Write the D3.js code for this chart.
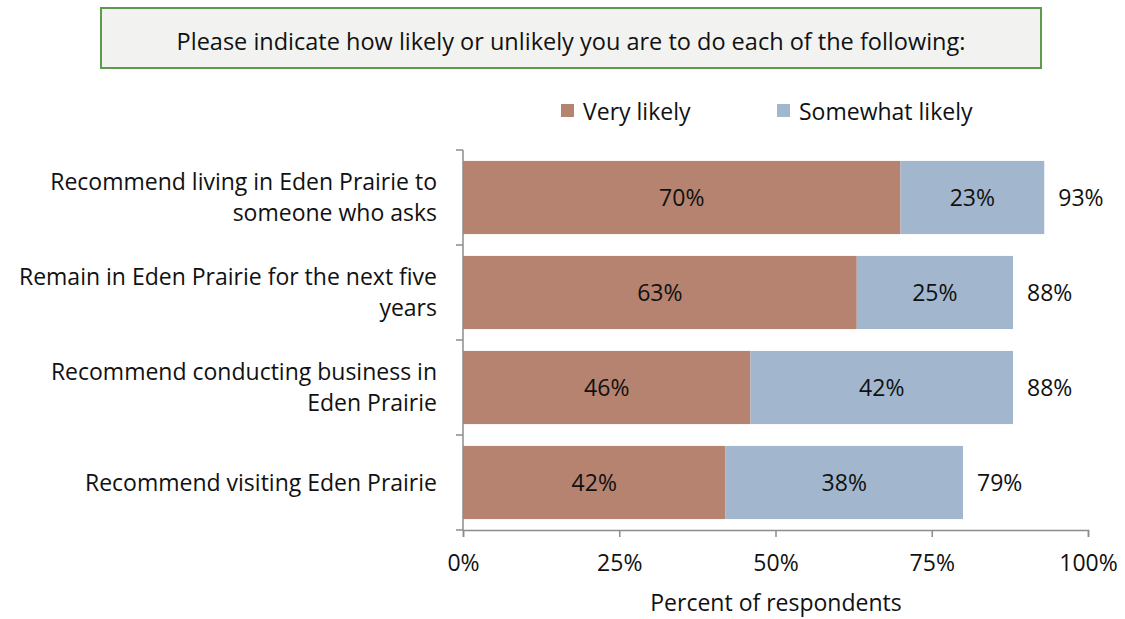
<!DOCTYPE html>
<html>
<head>
<meta charset="utf-8">
<script src="https://cdn.jsdelivr.net/npm/d3@7"></script>
<style>
  html, body { margin: 0; padding: 0; background: #ffffff; }
  svg { display: block; font-family: "Open Sans", "Noto Sans", sans-serif; }
</style>
</head>
<body>
<svg id="chart" width="1125" height="619"></svg>
<script>
// Survey items (two-line labels split on "|")
const categories = [
  "Recommend living in Eden Prairie to|someone who asks",
  "Remain in Eden Prairie for the next five|years",
  "Recommend conducting business in|Eden Prairie",
  "Recommend visiting Eden Prairie"
];
const veryLikely = [70, 63, 46, 42];
const somewhatLikely = [23, 25, 42, 38];
const totals = [93, 88, 88, 79];
const seriesNames = ["Very likely", "Somewhat likely"];
const xTicks = [0, 25, 50, 75, 100];

const colors = ["#b5836f", "#a2b7cd"];
const fs = 23;
const svg = d3.select("#chart");

// Title box
svg.append("rect")
  .attr("x", 101).attr("y", 8).attr("width", 940).attr("height", 60)
  .attr("fill", "#f2f3f0").attr("stroke", "#5e9a4e").attr("stroke-width", 2);
svg.append("text")
  .attr("x", 571).attr("y", 50)
  .attr("text-anchor", "middle")
  .attr("font-size", 23.5).attr("fill", "#111")
  .text("Please indicate how likely or unlikely you are to do each of the following:");

// Scales
const x = d3.scaleLinear().domain([0, 100]).range([463, 1088]);
const y = d3.scaleBand().domain(d3.range(categories.length)).range([150, 530]).paddingInner(0.23).paddingOuter(0.115);
const yOuter = d3.scaleBand().domain(d3.range(categories.length)).range([150, 530]);

// Stacked data
const rows = categories.map((c, i) => ({ i, v: [veryLikely[i], somewhatLikely[i]] }));
const stack = d3.stack().keys([0, 1]).value((d, k) => d.v[k]);
const stacked = stack(rows);

const g = svg.append("g");
stacked.forEach((layer, k) => {
  g.selectAll(null).data(layer).enter().append("rect")
    .attr("x", d => x(d[0]))
    .attr("y", d => y(d.data.i))
    .attr("width", d => x(d[1]) - x(d[0]))
    .attr("height", y.bandwidth())
    .attr("fill", colors[k]);
  g.selectAll(null).data(layer).enter().append("text")
    .attr("x", d => (x(d[0]) + x(d[1])) / 2)
    .attr("y", d => y(d.data.i) + y.bandwidth() / 2 + 8)
    .attr("text-anchor", "middle")
    .attr("font-size", fs).attr("fill", "#111")
    .text(d => d.data.v[k] + "%");
});

// Totals right of bars
g.selectAll(null).data(rows).enter().append("text")
  .attr("x", d => x(d.v[0] + d.v[1]) + 14)
  .attr("y", d => y(d.i) + y.bandwidth() / 2 + 8)
  .attr("font-size", fs).attr("fill", "#111")
  .text(d => totals[d.i] + "%");

// Y axis with ticks at band boundaries
const axisColor = "#8c8c8c";
svg.append("line").attr("x1", 463).attr("x2", 463).attr("y1", 150).attr("y2", 530)
  .attr("stroke", axisColor).attr("stroke-width", 1.5);
const yBounds = d3.range(categories.length + 1).map(i => i < categories.length ? yOuter(i) : 530);
svg.selectAll(null).data(yBounds).enter().append("line")
  .attr("x1", 456).attr("x2", 463).attr("y1", d => d).attr("y2", d => d)
  .attr("stroke", axisColor).attr("stroke-width", 1.5);

// Category labels
categories.forEach((c, i) => {
  const lines = c.split("|");
  const cy = yOuter(i) + yOuter.bandwidth() / 2;
  const lh = 31;
  const t = svg.append("text").attr("text-anchor", "end").attr("font-size", fs).attr("fill", "#111");
  lines.forEach((l, j) => {
    t.append("tspan").attr("x", 437)
      .attr("y", cy + 8 + (j - (lines.length - 1) / 2) * lh)
      .text(l);
  });
});

// X axis
const xAxis = svg.append("g").attr("transform", "translate(0,530)")
  .call(d3.axisBottom(x).tickValues(xTicks).tickFormat(d => d + "%").tickSize(7).tickPadding(18));
xAxis.select(".domain").attr("stroke", axisColor).attr("stroke-width", 1.5);
xAxis.selectAll(".tick line").attr("stroke", axisColor).attr("stroke-width", 1.5);
xAxis.selectAll(".tick text").attr("font-size", fs).attr("fill", "#111")
  .attr("font-family", "\"Open Sans\", \"Noto Sans\", sans-serif");

svg.append("text")
  .attr("x", 776).attr("y", 611)
  .attr("text-anchor", "middle")
  .attr("font-size", fs).attr("fill", "#111")
  .text("Percent of respondents");

// Legend
const legend = svg.append("g");
const legendX = [561, 777];
seriesNames.forEach((n, k) => {
  legend.append("rect").attr("x", legendX[k]).attr("y", 104).attr("width", 13).attr("height", 13).attr("fill", colors[k]);
  legend.append("text").attr("x", legendX[k] + 22).attr("y", 120)
    .attr("font-size", fs).attr("fill", "#111").text(n);
});
</script>
</body>
</html>
